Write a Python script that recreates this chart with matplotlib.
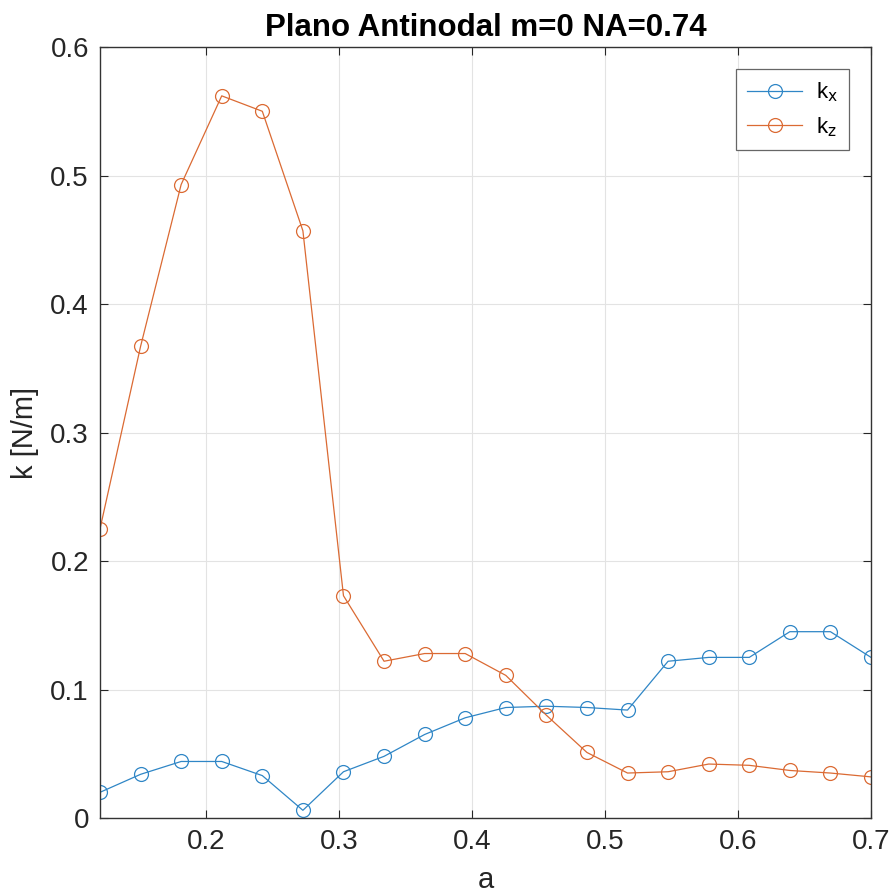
import numpy as np
import matplotlib.pyplot as plt

plt.rcParams['font.family'] = ['Liberation Sans', 'DejaVu Sans']

a = np.linspace(0.12, 0.7, 20)
kx = [0.020, 0.034, 0.044, 0.044, 0.033, 0.006, 0.036, 0.048, 0.065, 0.078,
      0.086, 0.087, 0.086, 0.084, 0.122, 0.125, 0.125, 0.145, 0.145, 0.125]
kz = [0.225, 0.367, 0.493, 0.562, 0.550, 0.457, 0.173, 0.122, 0.128, 0.128,
      0.111, 0.080, 0.051, 0.035, 0.036, 0.042, 0.041, 0.037, 0.035, 0.032]

azul = '#2F86C6'
naranja = '#DB6A33'

fig = plt.figure(figsize=(8.96, 8.94), dpi=100)
ax = fig.add_axes([0.1116, 0.085, 0.8605, 0.8624])

ax.plot(a, kx, '-o', color=azul, lw=0.9, ms=10, mfc='none', mew=0.9, label=r'k$_\mathrm{x}$')
ax.plot(a, kz, '-o', color=naranja, lw=0.9, ms=10, mfc='none', mew=0.9, label=r'k$_\mathrm{z}$')

ax.set_xlim(0.12, 0.7)
ax.set_ylim(0, 0.6)
ax.set_xticks([0.2, 0.3, 0.4, 0.5, 0.6, 0.7])
ax.set_xticklabels(['0.2', '0.3', '0.4', '0.5', '0.6', '0.7'])
ax.set_yticks([0, 0.1, 0.2, 0.3, 0.4, 0.5, 0.6])
ax.set_yticklabels(['0', '0.1', '0.2', '0.3', '0.4', '0.5', '0.6'])
ax.grid(True, color='#e3e3e3', lw=0.8)
ax.tick_params(direction='in', top=True, right=True, labelsize=20, colors='#262626',
               length=6, pad=8)
for s in ax.spines.values():
    s.set_color('#333333')
    s.set_linewidth(1.0)

ax.set_xlabel('a', fontsize=21, color='#262626', labelpad=8)
ax.set_ylabel('k [N/m]', fontsize=21, color='#262626', labelpad=8)
ax.set_title('Plano Antinodal m=0 NA=0.74', fontsize=22.5, fontweight='bold', pad=8)

leg = ax.legend(loc='upper right', fontsize=16, fancybox=False, edgecolor='#666666',
                handlelength=2.5, borderaxespad=1.0, framealpha=1, handletextpad=0.6,
                borderpad=0.5)
leg.get_frame().set_linewidth(0.9)

fig.savefig('out.png', dpi=100)
